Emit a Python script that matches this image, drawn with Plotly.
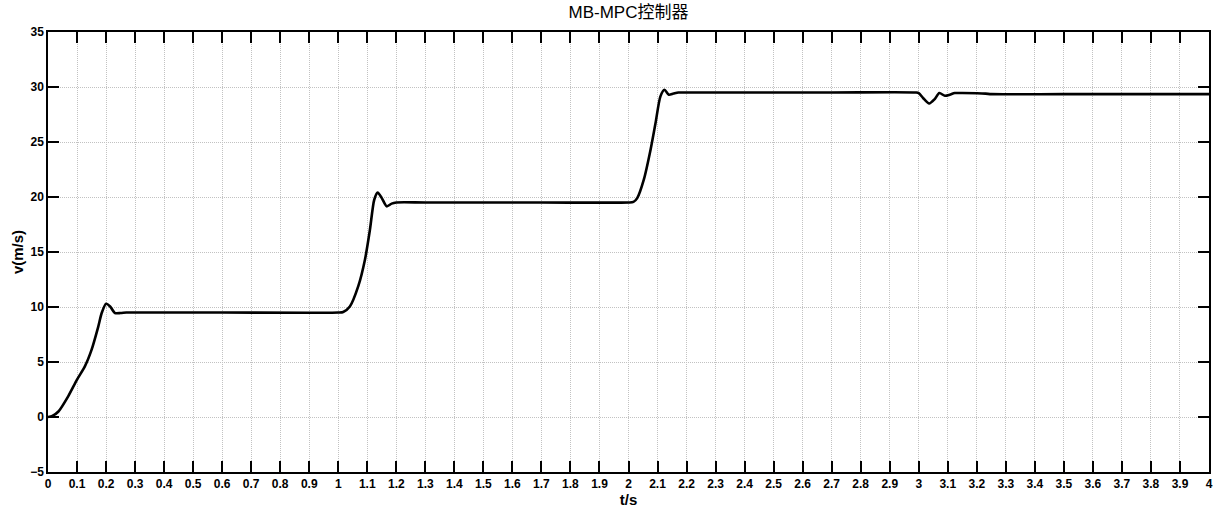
import plotly.graph_objects as go

# time (s) and speed (m/s)
t = [0.0, 0.015, 0.036, 0.07, 0.1, 0.127, 0.15, 0.173, 0.185, 0.2, 0.214, 0.231, 0.25, 0.27, 0.3,
     0.6, 1.0, 1.017, 1.04, 1.069, 1.092, 1.109, 1.124, 1.136, 1.15, 1.167, 1.184, 1.2, 1.3,
     1.7, 2.0, 2.017, 2.03, 2.053, 2.076, 2.093, 2.11, 2.124, 2.139, 2.155, 2.172, 2.2, 2.3,
     2.7, 2.99, 3.0, 3.015, 3.036, 3.055, 3.071, 3.09, 3.107, 3.124, 3.15, 3.23, 3.25, 3.5, 4.0]
v = [0.0, 0.1, 0.5, 1.9, 3.4, 4.6, 6.1, 8.2, 9.45, 10.3, 10.05, 9.45, 9.45, 9.5, 9.5,
     9.5, 9.5, 9.55, 10.05, 11.9, 14.3, 17.0, 19.75, 20.4, 19.9, 19.15, 19.4, 19.5, 19.5,
     19.5, 19.5, 19.55, 19.9, 21.6, 24.3, 26.7, 29.15, 29.75, 29.3, 29.4, 29.5, 29.5, 29.5,
     29.5, 29.5, 29.45, 29.0, 28.5, 28.9, 29.45, 29.2, 29.3, 29.45, 29.45, 29.4, 29.35, 29.35, 29.35]

x_ticks = [round(i * 0.1, 1) for i in range(41)]
x_labels = ["0" if x == 0 else ("%g" % x) for x in x_ticks]
y_ticks = [-5, 0, 5, 10, 15, 20, 25, 30, 35]

FONT = "Liberation Sans, Arial"

fig = go.Figure()
fig.add_trace(go.Scatter(
    x=t, y=v, mode="lines",
    line=dict(color="black", width=2.6, shape="spline", smoothing=0.7),
    showlegend=False, hoverinfo="skip", cliponaxis=False,
))

axis_common = dict(
    showline=True, linecolor="black", linewidth=1.5, mirror="allticks",
    ticks="inside", ticklen=11, tickwidth=1.5, tickcolor="black",
    showgrid=True, gridcolor="#c2c2c2", griddash="1px,1px", gridwidth=1,
    zeroline=False, automargin=False,
    tickfont=dict(family=FONT, size=12, color="black", weight="bold"),
)

fig.update_xaxes(
    range=[0, 4], tickmode="array", tickvals=x_ticks, ticktext=x_labels,
    title=dict(text="t/s", font=dict(family=FONT, size=15, color="black", weight="bold"), standoff=2),
    **axis_common,
)
fig.update_yaxes(
    range=[-5, 35], tickmode="array", tickvals=y_ticks,
    title=dict(text="v(m/s)", font=dict(family=FONT, size=15, color="black", weight="bold"), standoff=3),
    **axis_common,
)

fig.update_layout(
    width=1218, height=515,
    margin=dict(l=48, r=9, t=32, b=43),
    plot_bgcolor="white", paper_bgcolor="white",
    title=dict(text="MB-MPC控制器", x=0.516, xanchor="center", y=1 - 12 / 515, yanchor="middle",
               font=dict(family="Liberation Sans, Noto Sans CJK SC", size=17, color="black")),
)

fig.write_html(
    "out.html",
    config={"displayModeBar": False},
    post_script="document.body.style.margin='0';document.body.style.padding='0';document.body.style.overflow='hidden';",
)
